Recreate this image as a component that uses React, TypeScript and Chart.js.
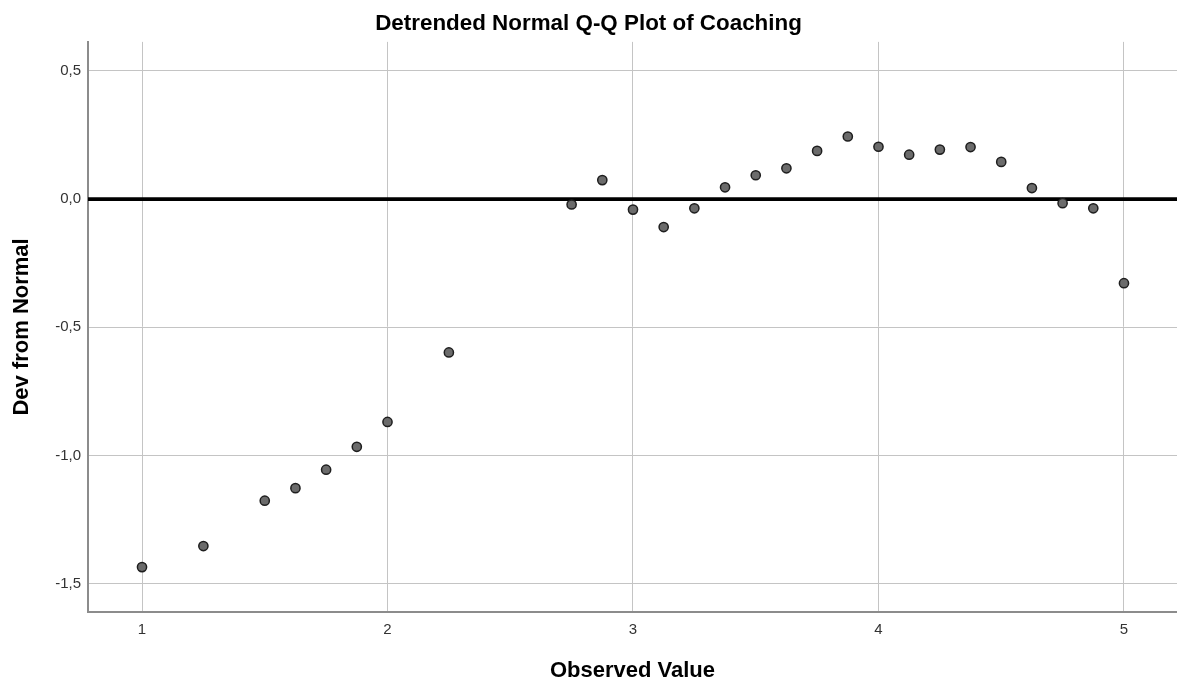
import { useEffect, useRef } from "react";
import { Chart, registerables } from "chart.js";

Chart.register(...registerables);

const observedValues = [
  1, 1.25, 1.5, 1.625, 1.75, 1.875, 2, 2.25, 2.75, 2.875, 3, 3.125, 3.25, 3.375,
  3.5, 3.625, 3.75, 3.875, 4, 4.125, 4.25, 4.375, 4.5, 4.625, 4.75, 4.875, 5,
];
const devFromNormal = [
  -1.435, -1.353, -1.176, -1.127, -1.055, -0.966, -0.869, -0.598, -0.021, 0.074,
  -0.041, -0.109, -0.036, 0.046, 0.093, 0.12, 0.188, 0.244, 0.204, 0.173, 0.193,
  0.203, 0.145, 0.043, -0.016, -0.036, -0.328,
];
const xTicks = [1, 2, 3, 4, 5];
const yTicks = [-1.5, -1, -0.5, 0, 0.5];
const xRange = [0.78, 5.216];
const yRange = [-1.61, 0.613];
const referenceY = 0;

const FONT = "'Liberation Sans', Arial, Helvetica, sans-serif";

export default function App() {
  const canvasRef = useRef<HTMLCanvasElement | null>(null);

  useEffect(() => {
    if (!canvasRef.current) return;
    const points = observedValues.map((x, i) => ({ x, y: devFromNormal[i] }));
    const refLine = [
      { x: xRange[0], y: referenceY },
      { x: xRange[1], y: referenceY },
    ];
    const chart = new Chart(canvasRef.current, {
      type: "scatter",
      data: {
        datasets: [
          {
            type: "scatter",
            label: "Coaching",
            data: points,
            backgroundColor: "#6b6b6b",
            borderColor: "#1e1e1e",
            borderWidth: 1.5,
            pointRadius: 4.6,
            order: 1,
          },
          {
            type: "line",
            label: "Reference",
            data: refLine,
            borderColor: "#000000",
            borderWidth: 3.8,
            pointRadius: 0,
            fill: false,
            order: 2,
          } as any,
        ],
      },
      options: {
        animation: false,
        responsive: true,
        maintainAspectRatio: false,
        layout: { padding: 0, autoPadding: false },
        plugins: {
          legend: { display: false },
          tooltip: { enabled: false },
          title: {
            display: true,
            text: "Detrended Normal Q-Q Plot of Coaching",
            color: "#000000",
            font: { family: FONT, size: 22.4, weight: "bold" },
            padding: { top: 10, bottom: 5 },
          },
        },
        scales: {
          x: {
            type: "linear",
            min: xRange[0],
            max: xRange[1],
            afterBuildTicks: (s: any) => {
              s.ticks = xTicks.map((v) => ({ value: v }));
            },
            afterFit: (s: any) => {
              s.height = 75;
              s.paddingLeft = 0;
              s.paddingRight = 0;
            },
            ticks: {
              autoSkip: false,
              maxRotation: 0,
              padding: 9,
              color: "#333333",
              font: { family: FONT, size: 15 },
              callback: (v: any) => String(v),
            },
            grid: { color: "#c4c4c4", lineWidth: 1, drawTicks: false },
            border: { color: "#8c8c8c", width: 2 },
            title: {
              display: true,
              text: "Observed Value",
              color: "#000000",
              font: { family: FONT, size: 22, weight: "bold" },
              padding: { top: 0, bottom: 3 },
            },
          },
          y: {
            type: "linear",
            min: yRange[0],
            max: yRange[1],
            afterBuildTicks: (s: any) => {
              s.ticks = yTicks.map((v) => ({ value: v }));
            },
            afterFit: (s: any) => {
              s.width = 88;
              s.paddingTop = 0;
              s.paddingBottom = 0;
            },
            ticks: {
              autoSkip: false,
              padding: 7,
              color: "#333333",
              font: { family: FONT, size: 15 },
              callback: (v: any) => Number(v).toFixed(1).replace(".", ","),
            },
            grid: { color: "#c4c4c4", lineWidth: 1, drawTicks: false },
            border: { color: "#8c8c8c", width: 2 },
            title: {
              display: true,
              text: "Dev from Normal",
              color: "#000000",
              font: { family: FONT, size: 22, weight: "bold" },
              padding: { top: 9, bottom: 0 },
            },
          },
        },
      },
    });
    return () => chart.destroy();
  }, []);

  return (
    <div
      style={{
        position: "absolute",
        left: 0,
        top: 0,
        width: "1177px",
        height: "687px",
        background: "#ffffff",
      }}
    >
      <canvas ref={canvasRef} />
    </div>
  );
}
